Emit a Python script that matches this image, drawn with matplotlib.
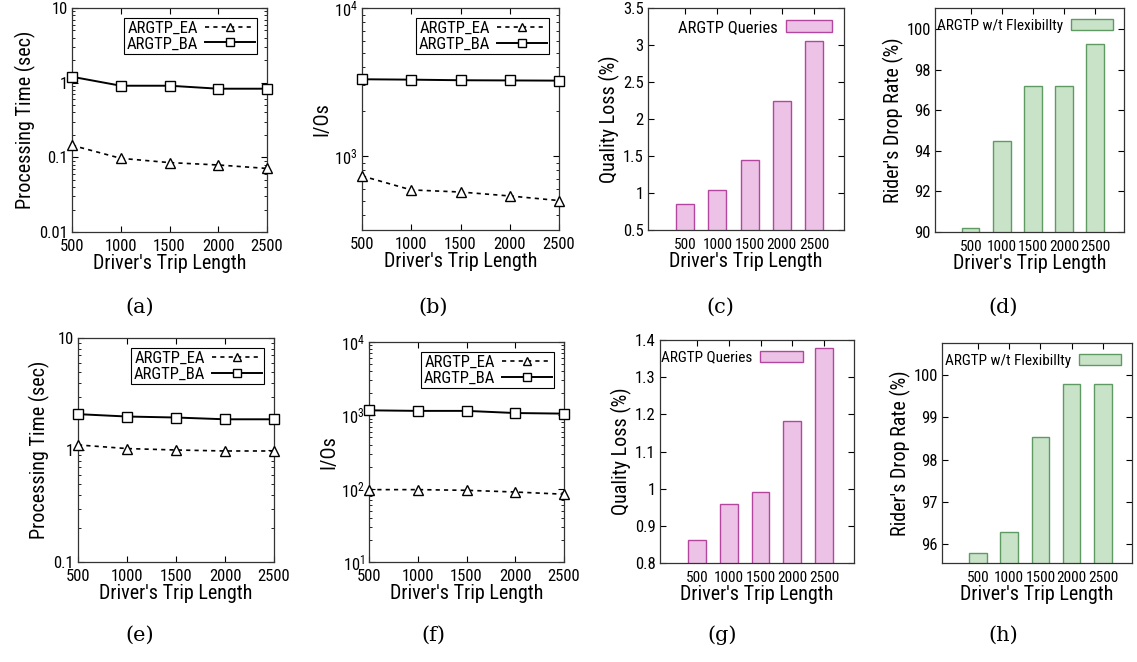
import matplotlib
matplotlib.use("Agg")
import matplotlib.pyplot as plt
import numpy as np
from matplotlib.ticker import FuncFormatter, NullFormatter

# ---------------- data ----------------
trip_lengths = [500, 1000, 1500, 2000, 2500]
trip_labels = ["500", "1000", "1500", "2000", "2500"]

# (a) processing time, setting 1
time_ea_1 = [0.145, 0.097, 0.085, 0.079, 0.071]
time_ba_1 = [1.2, 0.91, 0.91, 0.83, 0.83]
# (b) I/Os, setting 1
io_ea_1 = [733, 590, 571, 537, 500]
io_ba_1 = [3300, 3280, 3250, 3240, 3230]
# (c) quality loss, setting 1
qloss_1 = [0.85, 1.04, 1.45, 2.25, 3.06]
# (d) rider's drop rate, setting 1
drop_1 = [90.2, 94.47, 97.18, 97.2, 99.25]

# (e) processing time, setting 2
time_ea_2 = [1.11, 1.03, 1.0, 0.98, 0.98]
time_ba_2 = [2.09, 1.99, 1.95, 1.88, 1.88]
# (f) I/Os, setting 2
io_ea_2 = [97, 97, 95, 90, 84]
io_ba_2 = [1170, 1150, 1150, 1075, 1055]
# (g) quality loss, setting 2
qloss_2 = [0.861, 0.958, 0.992, 1.183, 1.378]
# (h) rider's drop rate, setting 2
drop_2 = [95.78, 96.28, 98.54, 99.79, 99.79]

captions = ["(a)", "(b)", "(c)", "(d)", "(e)", "(f)", "(g)", "(h)"]

plt.rcParams['font.family'] = ['Liberation Sans Narrow', 'Roboto Condensed', 'PT Sans Narrow',
                               'Arial Narrow', 'DejaVu Sans']

W, H = 1137, 662
fig = plt.figure(figsize=(W / 100, H / 100), dpi=100)

def ax_at(l, r, t, b):
    return fig.add_axes([l / W, 1 - b / H, (r - l) / W, (b - t) / H])

TICK_FS = 12
BAR_XT_FS = 11
LAB_FS = 14.5
LEG_FS = 12

def style(ax):
    ax.tick_params(direction='in', top=True, right=True, labelsize=TICK_FS,
                   length=4, width=0.8, pad=3)
    ax.tick_params(which='minor', direction='in', top=True, right=True, length=2)
    for s in ax.spines.values():
        s.set_linewidth(0.9)
        s.set_color('#333333')

def line_panel(ax, ea, ba, ylim, ylabel, plain):
    ax.plot(trip_lengths, ea, linestyle=(0, (2.5, 2.5)), color='black', lw=1.2,
            marker='^', markersize=7.5, markerfacecolor='white', markeredgecolor='black',
            markeredgewidth=1.0, label='ARGTP_EA', clip_on=False, zorder=3)
    ax.plot(trip_lengths, ba, linestyle='-', color='black', lw=1.4,
            marker='s', markersize=7, markerfacecolor='white', markeredgecolor='black',
            markeredgewidth=1.0, label='ARGTP_BA', clip_on=False, zorder=3)
    ax.set_yscale('log')
    ax.set_ylim(*ylim)
    ax.set_xlim(500, 2500)
    ax.set_xticks(trip_lengths)
    ax.set_xticklabels(trip_labels)
    if plain:
        ax.yaxis.set_major_formatter(FuncFormatter(lambda v, p: '%g' % v))
    ax.yaxis.set_minor_formatter(NullFormatter())
    ax.set_ylabel(ylabel, fontsize=LAB_FS, labelpad=2)
    ax.set_xlabel("Driver's Trip Length", fontsize=LAB_FS, labelpad=0)
    style(ax)
    ax.tick_params(axis='x', pad=5)
    leg = ax.legend(loc='upper right', markerfirst=False, fontsize=LEG_FS, fancybox=False,
                    edgecolor='black', framealpha=1, borderaxespad=0.6, handlelength=3.0,
                    borderpad=0.15, labelspacing=0.05, handletextpad=0.4, markerscale=0.85)
    leg.get_frame().set_linewidth(0.8)

def bar_panel(ax, vals, ylim, yticks, ylabel, label, fc, ec, xlim, leg_fs, leg_right=1.0):
    x = np.arange(len(trip_lengths))
    ax.bar(x, vals, width=0.56, color=fc, edgecolor=ec, linewidth=1.0, label=label)
    ax.set_ylim(*ylim)
    ax.set_yticks(yticks)
    ax.yaxis.set_major_formatter(FuncFormatter(lambda v, p: '%g' % v))
    ax.set_xlim(*xlim)
    ax.set_xticks(x)
    ax.set_xticklabels(trip_labels)
    ax.set_ylabel(ylabel, fontsize=LAB_FS, labelpad=2)
    ax.set_xlabel("Driver's Trip Length", fontsize=LAB_FS, labelpad=0)
    style(ax)
    ax.tick_params(axis='x', bottom=False, pad=6, labelsize=BAR_XT_FS)
    ax.legend(loc='upper right', bbox_to_anchor=(leg_right, 1.0), markerfirst=False,
              fontsize=leg_fs, frameon=False, borderaxespad=0.3, handlelength=2.8,
              handleheight=0.8, handletextpad=0.5)

PINK_F, PINK_E = '#ecc3e6', '#b3479f'
GREEN_F, GREEN_E = '#c9e3c9', '#5f9a63'

# row 1
ax = ax_at(72, 267, 8, 232)
line_panel(ax, time_ea_1, time_ba_1, (0.01, 10), 'Processing Time (sec)', True)
ax = ax_at(362, 559, 8, 230)
line_panel(ax, io_ea_1, io_ba_1, (10 ** 2.5, 1e4), 'I/Os', False)
ax = ax_at(648, 844, 8, 230)
bar_panel(ax, qloss_1, (0.5, 3.5), [0.5, 1, 1.5, 2, 2.5, 3, 3.5], 'Quality Loss (%)',
          'ARGTP Queries', PINK_F, PINK_E, (-1.15, 4.93), 12)
ax = ax_at(935, 1124, 8, 232)
bar_panel(ax, drop_1, (90, 101.05), [90, 92, 94, 96, 98, 100], "Rider's Drop Rate (%)",
          'ARGTP w/t Flexibillty', GREEN_F, GREEN_E, (-1.15, 4.93), 11)

# row 2
ax = ax_at(78, 274, 338, 562)
line_panel(ax, time_ea_2, time_ba_2, (0.1, 10), 'Processing Time (sec)', True)
ax = ax_at(369, 564, 342, 562)
line_panel(ax, io_ea_2, io_ba_2, (10, 1e4), 'I/Os', False)
ax = ax_at(660, 854, 340, 563)
bar_panel(ax, qloss_2, (0.8, 1.4), [0.8, 0.9, 1.0, 1.1, 1.2, 1.3, 1.4], 'Quality Loss (%)',
          'ARGTP Queries', PINK_F, PINK_E, (-1.15, 4.93), 11, leg_right=0.79)
ax = ax_at(942, 1132, 343, 563)
bar_panel(ax, drop_2, (95.54, 100.77), [96, 97, 98, 99, 100], "Rider's Drop Rate (%)",
          'ARGTP w/t Flexibillty', GREEN_F, GREEN_E, (-1.15, 4.93), 11)

cap_x = [140, 433, 720, 1003, 140, 433, 722, 1003]
cap_y = [307, 307, 307, 307, 635, 635, 635, 635]
for c, cx, cy in zip(captions, cap_x, cap_y):
    fig.text(cx / W, 1 - cy / H, c, ha='center', va='center', fontsize=15,
             family=['DejaVu Serif'])

fig.savefig('out.png', dpi=100)
